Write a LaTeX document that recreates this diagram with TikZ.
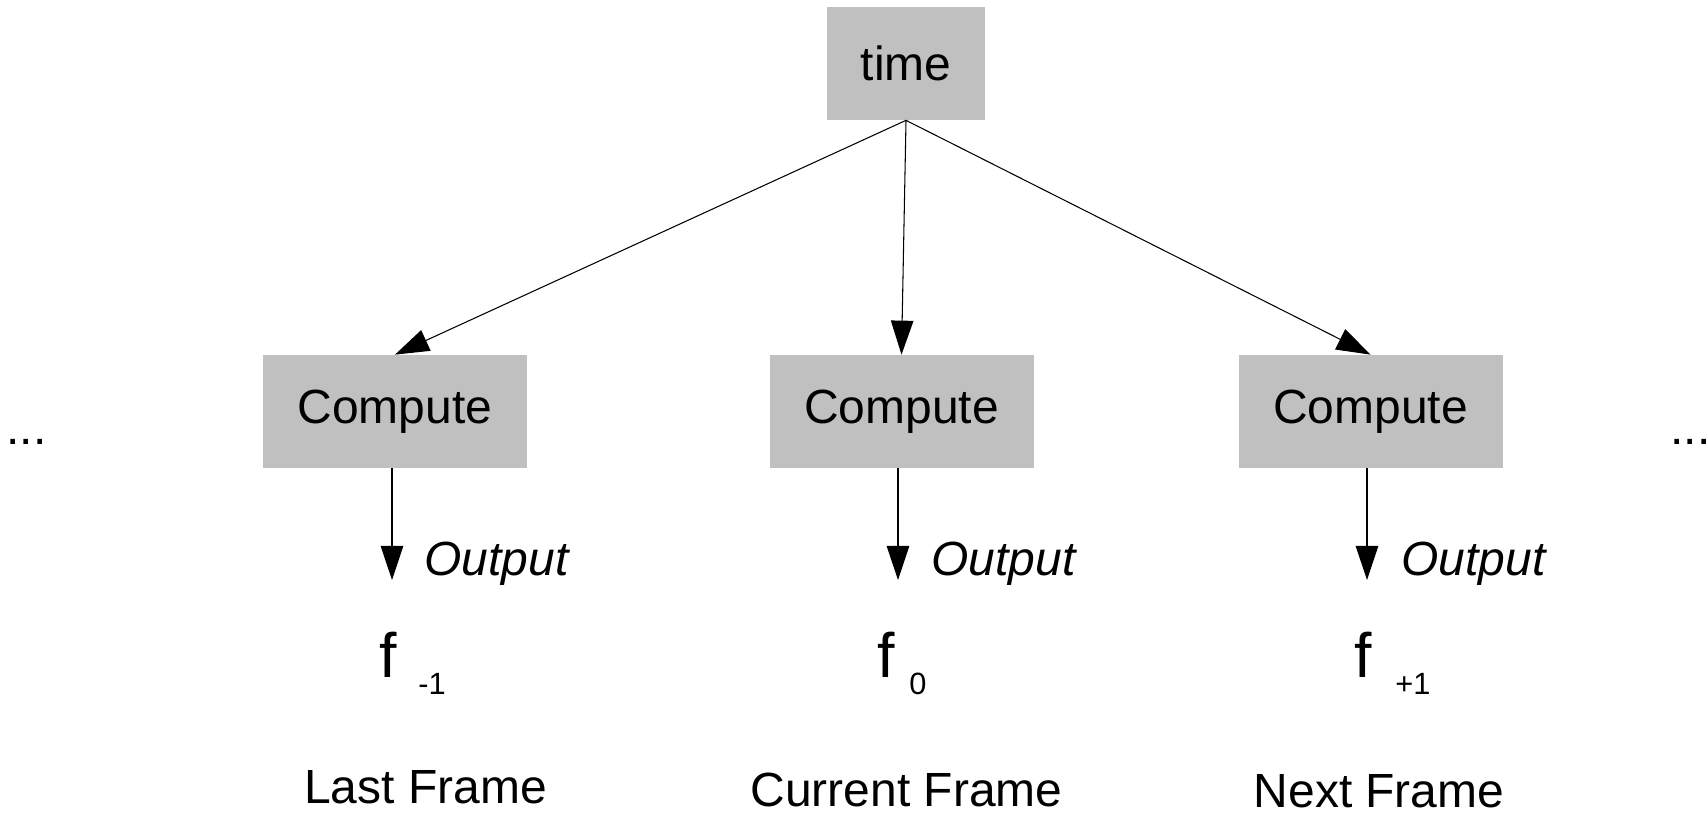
\documentclass[tikz,border=0pt]{standalone}
\usepackage{fontspec}
\setmainfont{Liberation Sans}
\usepackage{tikz}
\usepackage{xcolor}
\usetikzlibrary{positioning,arrows.meta}
\definecolor{boxgray}{HTML}{C0C0C0}
\newcommand{\bigtext}{\fontsize{27.3}{32}\selectfont}
\newcommand{\ftext}{\fontsize{35.7}{42}\selectfont}
\newcommand{\subtext}{\fontsize{17.5}{21}\selectfont}

\begin{document}
\begin{tikzpicture}[
    box/.style={fill=boxgray, inner sep=0pt, minimum height=2.26cm, font=\bigtext},
    flow/.style={-{Triangle[length=0.68cm, width=0.45cm]}, line width=0.6pt},
    lbl/.style={inner sep=0pt, font=\bigtext}
]
    \useasboundingbox (0,0) rectangle (34.16,16.32);

    % Time source
    \node[box, minimum width=3.16cm] (time) at (18.12,15.05) {time};

    % Compute step for each frame
    \node[box, minimum width=5.28cm] (cLast) at (7.90,8.09) {Compute};
    \node[box, minimum width=5.28cm] (cCur) at (18.03,8.09) {Compute};
    \node[box, minimum width=5.28cm] (cNext) at (27.41,8.09) {Compute};

    % Time feeds every step
    \draw[flow] (time.south) -- (cLast.north);
    \draw[flow] (time.south) -- (cCur.north);
    \draw[flow] (time.south) -- (cNext.north);

    % Outputs
    \coordinate (oLast) at (7.84,4.72);
    \coordinate (oCur) at (17.96,4.72);
    \coordinate (oNext) at (27.34,4.72);
    \draw[flow] (cLast.south -| oLast) -- (oLast);
    \draw[flow] (cCur.south -| oCur) -- (oCur);
    \draw[flow] (cNext.south -| oNext) -- (oNext);
    \node[lbl, anchor=base west, font=\bigtext\itshape] (outLast) at (8.48,4.80) {Output};
    \node[lbl, anchor=base west, font=\bigtext\itshape] (outCur) at (18.62,4.80) {Output};
    \node[lbl, anchor=base west, font=\bigtext\itshape] (outNext) at (28.02,4.80) {Output};

    % Frames f with their index
    \node[lbl, anchor=base west, font=\ftext] (fLast) at (7.58,2.76) {f};
    \node[lbl, anchor=base west, font=\subtext] (iLast) at (8.36,2.42) {-1};
    \node[lbl, anchor=base west, font=\ftext] (fCur) at (17.54,2.76) {f};
    \node[lbl, anchor=base west, font=\subtext] (iCur) at (18.18,2.42) {0};
    \node[lbl, anchor=base west, font=\ftext] (fNext) at (27.08,2.76) {f};
    \node[lbl, anchor=base west, font=\subtext] (iNext) at (27.90,2.42) {+1};

    % Frame names
    \node[lbl, anchor=base] (nLast) at (8.51,0.24) {Last Frame};
    \node[lbl, anchor=base] (nCur) at (18.13,0.18) {Current Frame};
    \node[lbl, anchor=base] (nNext) at (27.58,0.16) {Next Frame};

    % More frames on both sides
    \node[lbl, anchor=base west] (moreL) at (0.126,7.43) {...};
    \node[lbl, anchor=base west] (moreR) at (33.40,7.43) {...};
\end{tikzpicture}
\end{document}
